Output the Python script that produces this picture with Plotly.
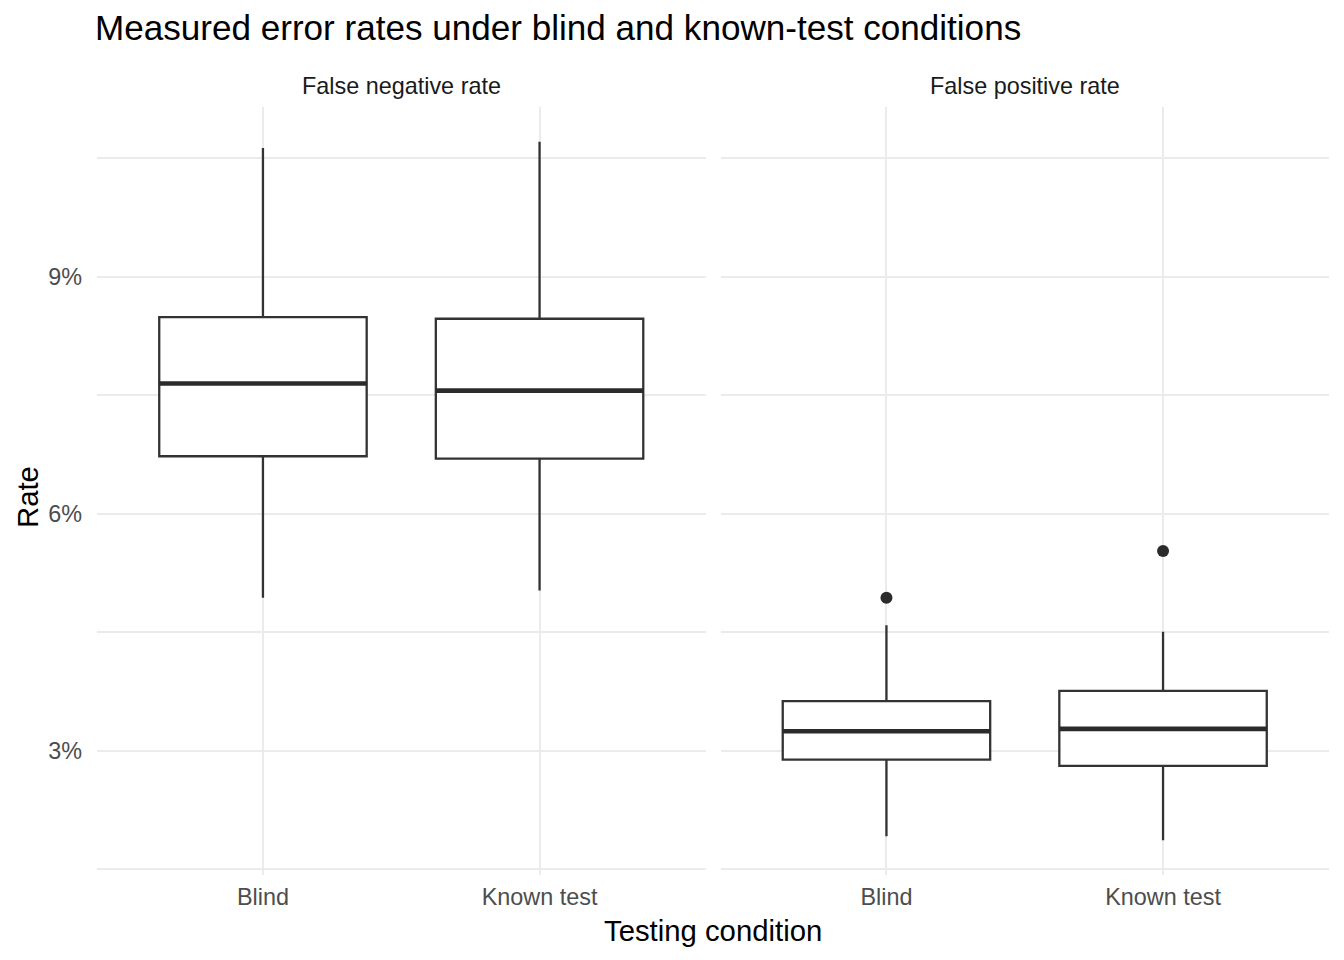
import plotly.graph_objects as go
from plotly.subplots import make_subplots

panels = ["False negative rate", "False positive rate"]
conditions = ["Blind", "Known test"]

# values in percent, per panel, per condition
q1 = [[6.73, 6.70], [2.89, 2.81]]
median = [[7.65, 7.56], [3.25, 3.28]]
q3 = [[8.49, 8.47], [3.63, 3.76]]
lower = [[4.94, 5.03], [1.92, 1.87]]
upper = [[10.63, 10.71], [4.59, 4.51]]
outliers = [[[], []], [[4.94], [5.53]]]

y_ticks = [3, 6, 9]
y_tick_labels = ["3%", "6%", "9%"]
y_minor = [1.5, 4.5, 7.5, 10.5]

box_w = 0.75
line_col = "#333333"
FONT = "Liberation Sans, Arial, Helvetica, sans-serif"

fig = make_subplots(rows=1, cols=2, shared_yaxes=True, horizontal_spacing=15/1232,
                    subplot_titles=panels)

for p in range(2):
    for c in range(2):
        fig.add_trace(go.Box(
            x=[c], q1=[q1[p][c]], median=[median[p][c]], q3=[q3[p][c]],
            lowerfence=[lower[p][c]], upperfence=[upper[p][c]],
            width=box_w, whiskerwidth=0, fillcolor="white",
            line=dict(color=line_col, width=2.3), boxpoints=False,
            showlegend=False, hoverinfo="skip"), row=1, col=p + 1)
        fig.add_trace(go.Scatter(
            x=[c - box_w / 2, c + box_w / 2], y=[median[p][c]] * 2,
            mode="lines", line=dict(color="#2b2b2b", width=4.6),
            showlegend=False, hoverinfo="skip"), row=1, col=p + 1)
        if outliers[p][c]:
            fig.add_trace(go.Scatter(
                x=[c] * len(outliers[p][c]), y=outliers[p][c], mode="markers",
                marker=dict(color="#2b2b2b", size=12),
                showlegend=False, hoverinfo="skip"), row=1, col=p + 1)

grid = "#ebebeb"
for i in (1, 2):
    fig.update_xaxes(range=[-0.6, 1.6], tickvals=[0, 1], ticktext=conditions,
                     showgrid=True, gridcolor=grid, gridwidth=2.4, zeroline=False,
                     showline=False, ticks="", ticklabelstandoff=6,
                     tickfont=dict(size=23.4, color="#4d4d4d"),
                     row=1, col=i)
    fig.update_yaxes(range=[1.43, 11.15], tickvals=y_ticks, ticktext=y_tick_labels,
                     showgrid=True, gridcolor=grid, gridwidth=2.4, zeroline=False,
                     showline=False, ticks="", ticklabelstandoff=14,
                     tickfont=dict(size=23.4, color="#4d4d4d"),
                     minor=dict(tickvals=y_minor, showgrid=True, gridcolor=grid,
                                gridwidth=1.7, ticks=""),
                     row=1, col=i)

fig.update_annotations(font=dict(size=23.4, color="#1a1a1a", family=FONT), yshift=6)
fig.add_annotation(text="Testing condition", x=0.5, y=(875 - 930) / 768,
                   xref="paper", yref="paper", showarrow=False,
                   font=dict(size=29.3, color="black"), yanchor="middle", xanchor="center")
fig.add_annotation(text="Rate", x=(27 - 97) / 1232, y=(875 - 497) / 768,
                   xref="paper", yref="paper", showarrow=False, textangle=-90,
                   font=dict(size=29.3, color="black"), yanchor="middle", xanchor="center")

fig.update_layout(
    width=1344, height=960,
    margin=dict(l=97, r=15, t=107, b=85),
    paper_bgcolor="white", plot_bgcolor="white",
    font=dict(family=FONT),
    title=dict(text="Measured error rates under blind and known-test conditions",
               x=95/1344, xanchor="left", y=1 - 28/960, yanchor="middle",
               font=dict(size=35.1, color="black")),
)

fig.write_html("out.html", config={"displayModeBar": False},
               post_script="document.body.style.margin='0';")
